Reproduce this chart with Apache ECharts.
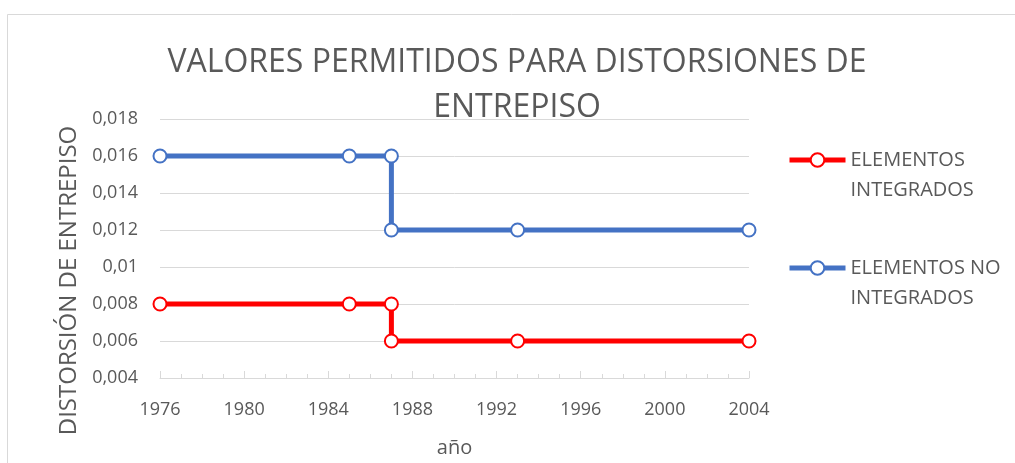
<!DOCTYPE html>
<html>
<head>
<meta charset="utf-8">
<script src="https://cdn.jsdelivr.net/npm/echarts@6/dist/echarts.min.js"></script>
<style>
  html, body { margin: 0; padding: 0; background: #ffffff; }
  #chart { width: 1015px; height: 463px; }
</style>
</head>
<body>
<div id="chart"></div>
<script>
// Permitted inter-storey drift by year
const years = [1976, 1985, 1987, 1987, 1993, 2004];
const integrados = [0.008, 0.008, 0.008, 0.006, 0.006, 0.006];
const noIntegrados = [0.016, 0.016, 0.016, 0.012, 0.012, 0.012];
const seriesNames = ['ELEMENTOS\nINTEGRADOS', 'ELEMENTOS NO\nINTEGRADOS'];
const titleText = 'VALORES PERMITIDOS PARA DISTORSIONES DE\nENTREPISO';
const xName = 'año';
const yName = 'DISTORSIÓN DE ENTREPISO';

const FONT = '"Open Sans", "Noto Sans", sans-serif';
const TEXT = '#595959';
const GRID = '#D9D9D9';

const pairs = (xs, ys) => xs.map((x, i) => [x, ys[i]]);
const fmtDecimal = v => String(Number(v.toFixed(4))).replace('.', ',');
const fmtYear = v => String(v);

function lineSeries(name, color, values) {
  return {
    name: name,
    type: 'line',
    data: pairs(years, values),
    symbol: 'circle',
    symbolSize: 13,
    showAllSymbol: true,
    lineStyle: { color: color, width: 5 },
    itemStyle: { color: '#ffffff', borderColor: color, borderWidth: 2 },
    emphasis: { disabled: true },
    z: 3
  };
}

const chart = echarts.init(document.getElementById('chart'), null, { renderer: 'canvas' });
chart.setOption({
  animation: false,
  backgroundColor: '#ffffff',
  textStyle: { fontFamily: FONT },
  graphic: [{
    type: 'rect',
    silent: true,
    shape: { x: 7.5, y: 14.5, width: 1100, height: 600 },
    style: { fill: null, stroke: GRID, lineWidth: 1 },
    z: -10
  }],
  title: {
    text: titleText,
    left: 517,
    textAlign: 'center',
    top: 40,
    padding: 0,
    textStyle: {
      fontFamily: FONT,
      fontSize: 32,
      fontWeight: 'normal',
      color: TEXT,
      lineHeight: 45
    }
  },
  legend: {
    orient: 'vertical',
    left: 782,
    top: 110,
    itemWidth: 56,
    itemHeight: 17,
    itemGap: 18,
    selectedMode: false,
    data: seriesNames,
    lineStyle: { width: 5 },
    // a leading blank line keeps the first text line level with the icon
    formatter: name => '\n' + name,
    textStyle: {
      fontFamily: FONT,
      fontSize: 20,
      color: TEXT,
      lineHeight: 30
    }
  },
  grid: { left: 160, right: 266, top: 119, bottom: 82, containLabel: false },
  xAxis: {
    type: 'value',
    min: 1976,
    max: 2004,
    interval: 4,
    name: xName,
    nameLocation: 'middle',
    nameGap: 60,
    nameTextStyle: { fontFamily: FONT, fontSize: 20, color: TEXT },
    axisLine: { show: true, lineStyle: { color: GRID, width: 1 } },
    axisTick: { show: true, inside: true, length: 7, lineStyle: { color: GRID } },
    minorTick: { show: true, splitNumber: 4, length: 4, lineStyle: { color: GRID } },
    splitLine: { show: false },
    axisLabel: { fontFamily: FONT, fontSize: 18, color: TEXT, margin: 23, formatter: fmtYear }
  },
  yAxis: {
    type: 'value',
    min: 0.004,
    max: 0.018,
    interval: 0.002,
    name: yName,
    nameLocation: 'middle',
    nameGap: 64,
    nameTextStyle: { fontFamily: FONT, fontSize: 24, color: TEXT, padding: [0, 64, 0, 0] },
    axisLine: { show: false },
    axisTick: { show: false },
    splitLine: { show: true, lineStyle: { color: GRID, width: 1 } },
    axisLabel: { fontFamily: FONT, fontSize: 18, color: TEXT, margin: 22, formatter: fmtDecimal }
  },
  series: [
    lineSeries(seriesNames[0], '#FF0000', integrados),
    lineSeries(seriesNames[1], '#4472C4', noIntegrados)
  ]
});
</script>
</body>
</html>
